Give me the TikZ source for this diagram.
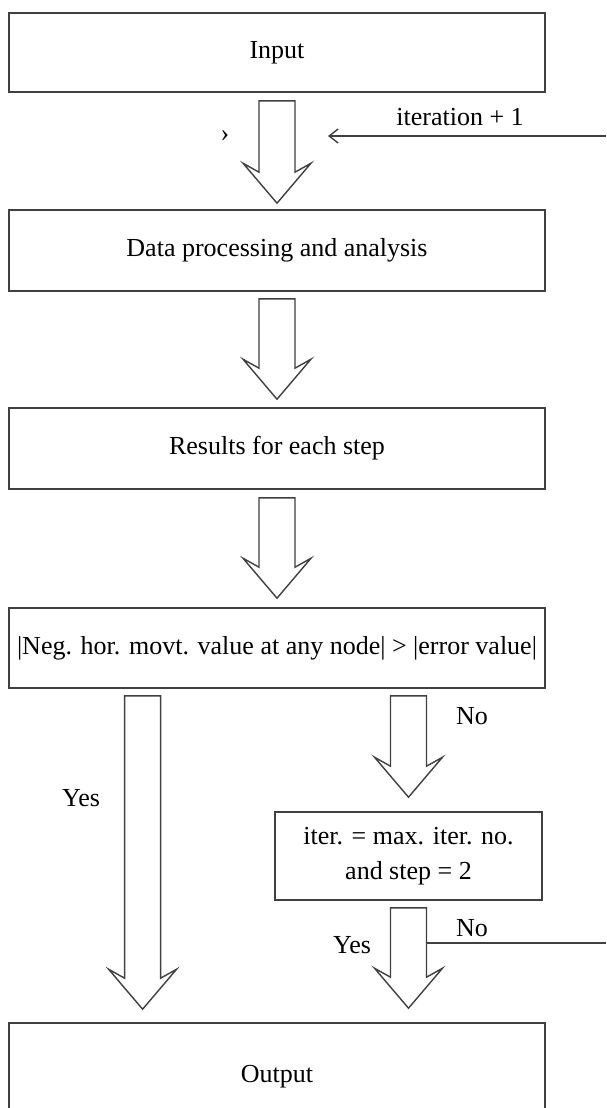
\documentclass[tikz,border=0pt]{standalone}
\usepackage{fontspec}
\setmainfont{Liberation Serif}
\usetikzlibrary{calc,arrows.meta}

\newcommand{\blockarrow}[2]{%
  \draw[bigarrow] let \p1=#1, \p2=#2 in
    (\x1-9pt,\y1) -- (\x1+9pt,\y1) -- (\x1+9pt,\y2+15.5pt) -- (\x1+17pt,\y2+20pt)
    -- (\x1,\y2) -- (\x1-17pt,\y2+20pt) -- (\x1-9pt,\y2+15.5pt) -- cycle;}

\begin{document}
\begin{tikzpicture}[x=0.5pt,y=-0.5pt]
            \tikzstyle{every node}=[font=\fontsize{13}{17.5}\selectfont, text=black, inner sep=1pt]
            \tikzstyle{box}=[rectangle, draw=black!75, line width=0.8pt, minimum width=268pt, minimum height=40pt, align=center]
            \tikzstyle{bigarrow}=[draw=black!75, line width=0.7pt, fill=white, line join=miter]
            \tikzstyle{edge}=[black!75, line width=0.7pt]

            \useasboundingbox (0,0) rectangle (606,1108);

            \node[box, minimum height=39.5pt] (input) at (277,52.5) {Input};
            \node[box, minimum height=40.5pt] (proc) at (277,250.5) {Data processing and analysis};
            \node[box, minimum height=40.5pt] (results) at (277,448.5) {Results for each step};
            \node[box] (test) at (277,648) {|Neg. hor. movt. value at any node| > |error value|};
            \node[box, minimum width=133.5pt, minimum height=44pt] (iter) at (408.5,856) {iter. = max. iter. no.\\and step = 2};
            \node[box, minimum height=53.5pt] (output) at (277,1076.5) {Output};

            \blockarrow{([yshift=-4pt]input.south)}{([yshift=3pt]proc.north)}
            \blockarrow{([yshift=-3.5pt]proc.south)}{([yshift=4pt]proc.south |- results.north)}
            \blockarrow{([yshift=-4pt]results.south)}{([yshift=4.5pt]test.north)}

            \coordinate (yesfrom) at ($(test.south west)!0.25!(test.south east)$);
            \coordinate (nofrom) at (iter.north |- test.south);
            \blockarrow{([yshift=-3.5pt]yesfrom)}{([yshift=6.5pt]yesfrom |- output.north)}
            \blockarrow{([yshift=-3.5pt]nofrom)}{([yshift=7pt]iter.north)}
            \blockarrow{([yshift=-3.5pt]iter.south)}{([yshift=7pt]iter.south |- output.north)}

            % loop back to the top
            \coordinate (loopin) at (606,136);
            \coordinate (loopend) at (328,136);
            \draw[edge, -{Straight Barb[length=4.5pt, width=7pt]}] (loopin) -- (loopend);
            \coordinate (noback) at (606,943);
            \coordinate (noout) at ([xshift=9pt]iter.south |- noback);
            \draw[edge] (noout) -- (noback);

            \node (chev) at (225,136) {›};
            \node (inclabel) at (460,117) {iteration + 1};
            \node (nolabel) at (472,716) {No};
            \node (yeslabel) at (81,798) {Yes};
            \node (yeslabel2) at (352,945) {Yes};
            \node (nolabel2) at (472,928) {No};
\end{tikzpicture}
\end{document}
